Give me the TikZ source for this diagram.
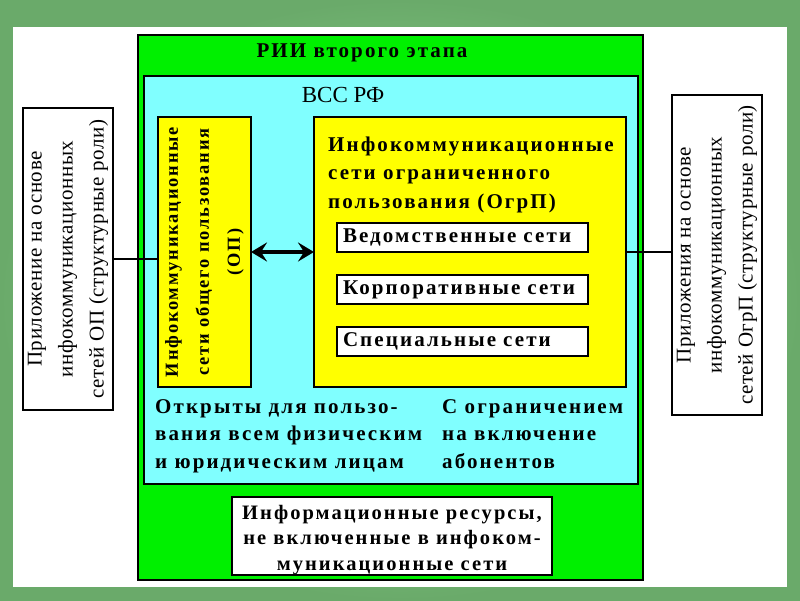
\documentclass[tikz,border=0pt]{standalone}
\usepackage{fontspec}
\setmainfont{Liberation Serif}
\newcommand\widefont{\addfontfeatures{LetterSpace=10}}
\newcommand\appfont{\addfontfeatures{LetterSpace=3}}
\usetikzlibrary{positioning, arrows.meta}
\definecolor{slidegreen}{HTML}{6AAA6A}
\definecolor{slidelight}{HTML}{9CEB9C}
\definecolor{riigreen}{HTML}{00F000}
\definecolor{vsscyan}{HTML}{80FFFF}
\definecolor{netyellow}{HTML}{FFFF00}
\tikzset{%
  box/.style={draw, line width=2pt, inner sep=0pt, outer sep=0pt},
  wide text/.style={font={\bfseries\widefont\fontsize{21}{27.5}\selectfont}, align=left, inner sep=0pt},
  app text/.style={font={\fontsize{21}{31}\selectfont\appfont}, align=center},
  netbox/.style={
    box,
    fill=white,
    wide text,
    text width=239pt,
    inner xsep=6pt,
    minimum height=29pt
  },
  appbox/.style={box, fill=white, rotate=90, minimum height=90pt, app text},
  link/.style={line width=2pt},
  both/.style={{Stealth[length=16pt,width=19pt,inset=6pt]}-{Stealth[length=16pt,width=19pt,inset=6pt]}, line width=4pt}
}
\begin{document}
\begin{tikzpicture}[x=1pt, y=-1pt]
  \shade[inner color=slidelight, outer color=slidegreen] (0,0) rectangle (800,600);
  \fill[white] (13,27) rectangle (787,587);
  \useasboundingbox (0,0) rectangle (800,600);

  \node[box, fill=riigreen, minimum width=505pt, minimum height=545pt] (rii) at (390.5,307.5) {};
  \node[wide text] (riititle) at (362,53) {РИИ второго этапа};

  \node[box, fill=vsscyan, minimum width=494pt, minimum height=408pt] (vss) at (391,280) {};
  \node[font=\fontsize{23}{26}\selectfont] (vsstitle) at (343,95) {ВСС РФ};

  \node[box, fill=netyellow, rotate=90, minimum width=270pt, minimum height=93pt, wide text, align=center,
    font={\bfseries\widefont\fontsize{18.4}{31}\selectfont}] (op) at (204.5,252)
    {Инфокоммуникационные\\сети общего пользования\\(ОП)};

  \node[box, fill=netyellow, minimum width=312pt, minimum height=270pt] (ogrp) at (470,252) {};
  \node[wide text, anchor=north west, font={\bfseries\widefont\fontsize{21}{28.5}\selectfont}] (ogrptext) at (328,136.5)
    {Инфокоммуникационные\\сети ограниченного\\пользования (ОгрП)};

  \node[netbox] (ved) at (462.5,237.5) {Ведомственные сети};
  \node[netbox, below=23pt of ved] (corp) {Корпоративные сети};
  \node[netbox, below=23pt of corp] (spec) {Специальные сети};

  \node[wide text, anchor=north west] (open) at (155,399)
    {Открыты для пользо-\\вания всем физическим\\и юридическим лицам};
  \node[wide text, anchor=north west] (limit) at (442,399)
    {С ограничением\\на включение\\абонентов};

  \node[box, fill=white, minimum width=320pt, minimum height=78pt] (res) at (392,536) {};
  \node[wide text, align=center, font={\bfseries\widefont\fontsize{20.5}{25.5}\selectfont}] (restext) at (392,540)
    {Информационные ресурсы,\\не включенные в инфоком-\\муникационные сети};

  \node[appbox, minimum width=302pt] (lapp) at (68,259)
    {Приложение на основе\\инфокоммуникационных\\сетей ОП (структурные роли)};
  \node[appbox, minimum width=320pt] (rapp) at (717,255)
    {Приложения на основе\\инфокоммуникационных\\сетей ОгрП (структурные роли)};

  \draw[link] (lapp.south) -- (lapp.south -| op.north);
  \draw[link] (ogrp.east) -- (ogrp.east -| rapp.north);
  \draw[both] (op.south) -- (ogrp.west);
\end{tikzpicture}
\end{document}
